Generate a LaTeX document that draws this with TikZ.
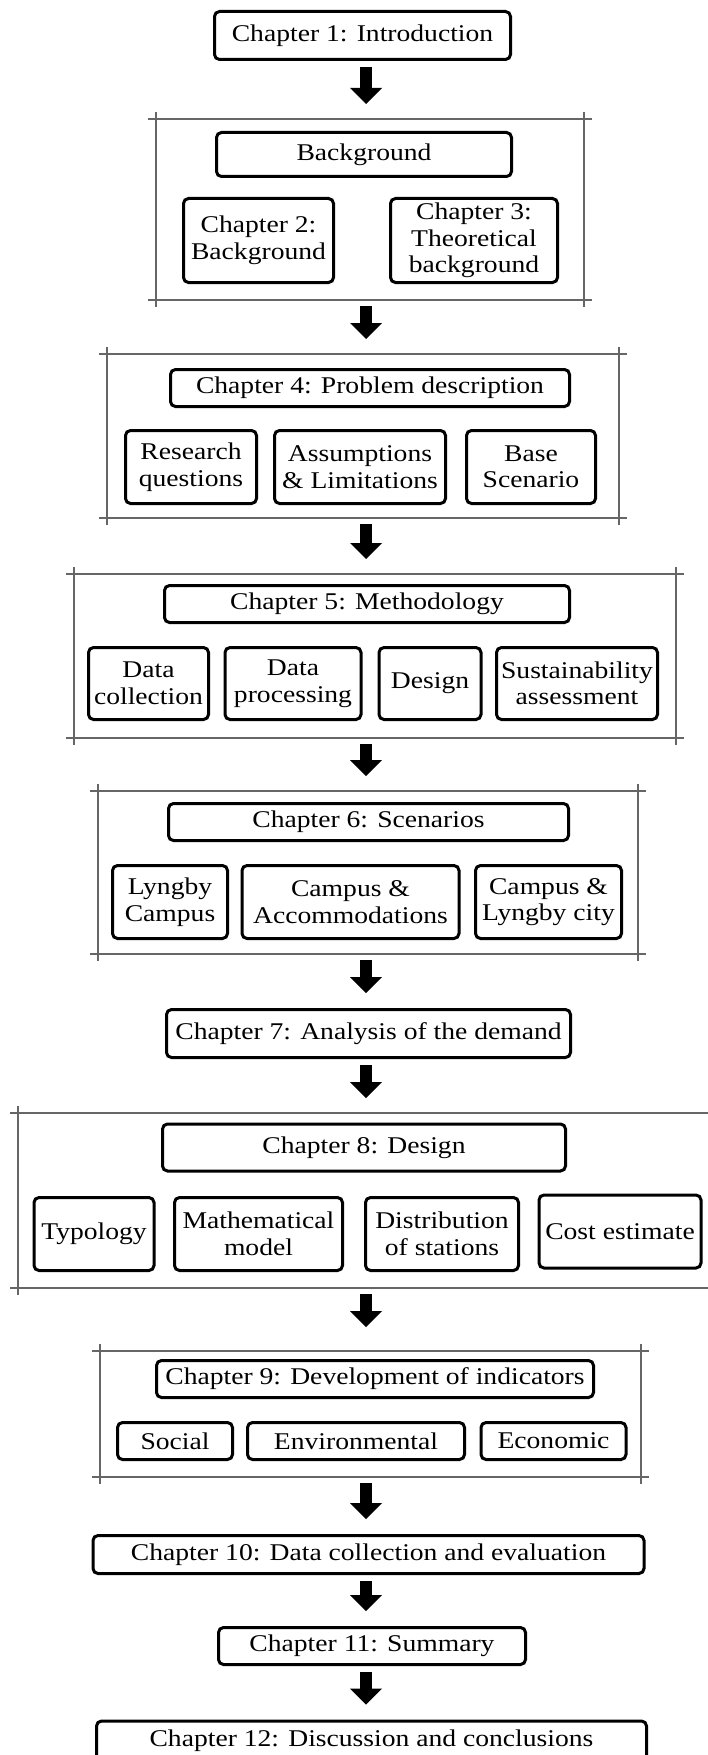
\documentclass[tikz,border=0pt]{standalone}
\usepackage{fontspec}
\setmainfont{Liberation Serif}[FakeStretch=1.15]
\usetikzlibrary{arrows.meta}

\begin{document}
\begin{tikzpicture}[x=1pt, y=-1pt,
		every node/.style={font=\fontsize{24}{26.5}\selectfont, align=center},
		chapter/.style={draw, line width=3pt, rounded corners=5pt, inner sep=2pt},
		group/.style={inner sep=0pt, outer sep=0pt},
		rule/.style={draw=black!60, line width=1.2pt},
		flow/.style={line width=12pt, -{Triangle[width=32pt, length=16pt, line width=0pt]},
			shorten <=6pt, shorten >=15pt}]

		\useasboundingbox (0, 0) rectangle (708, 1755);
		\coordinate (spine) at (366, 0);

		\node[chapter, minimum width=296pt, minimum height=48pt] (ch1) at (362.5, 35.5) {Chapter 1: Introduction};

		\node[group, minimum width=428pt, minimum height=181pt] (f1) at (370, 209.5) {};
		\node[chapter, minimum width=295pt, minimum height=44pt] (bg) at (364, 154.5) {Background};
		\node[chapter, minimum width=150pt, minimum height=84pt] (ch2) at (258.5, 240.5) {Chapter 2:\\Background};
		\node[chapter, minimum width=167pt, minimum height=84pt] (ch3) at (474, 240.5) {Chapter 3:\\Theoretical\\background};

		\node[group, minimum width=512pt, minimum height=164pt] (f2) at (363, 436) {};
		\node[chapter, minimum width=399pt, minimum height=37pt] (ch4) at (370, 388) {Chapter 4: Problem description};
		\node[chapter, minimum width=131pt, minimum height=73pt] (rq) at (191, 467) {Research\\questions};
		\node[chapter, minimum width=171pt, minimum height=73pt] (al) at (360, 467) {Assumptions\\\& Limitations};
		\node[chapter, minimum width=129pt, minimum height=73pt] (bs) at (531, 467) {Base\\Scenario};

		\node[group, minimum width=602pt, minimum height=164pt] (f3) at (375, 656) {};
		\node[chapter, minimum width=405pt, minimum height=37pt] (ch5) at (367, 604) {Chapter 5: Methodology};
		\node[chapter, minimum width=120pt, minimum height=72pt] (dc) at (148.5, 683.5) {Data\\collection};
		\node[chapter, minimum width=136pt, minimum height=72pt] (dp) at (293, 683.5) {Data\\processing};
		\node[chapter, minimum width=102pt, minimum height=72pt] (dsg) at (430, 683.5) {Design};
		\node[chapter, minimum width=161pt, minimum height=72pt] (sa) at (577, 683.5) {Sustainability\\assessment};

		\node[group, minimum width=540pt, minimum height=163pt] (f4) at (368, 872.5) {};
		\node[chapter, minimum width=400pt, minimum height=37pt] (ch6) at (368.5, 822) {Chapter 6: Scenarios};
		\node[chapter, minimum width=115pt, minimum height=73pt] (lc) at (170, 902) {Lyngby\\Campus};
		\node[chapter, minimum width=217pt, minimum height=73pt] (ca) at (350.5, 902) {Campus \&\\Accommodations};
		\node[chapter, minimum width=146pt, minimum height=73pt] (cl) at (548.5, 902) {Campus \&\\Lyngby city};

		\node[chapter, minimum width=404pt, minimum height=48pt] (ch7) at (368.5, 1033.5) {Chapter 7: Analysis of the demand};

		\node[group, minimum width=696pt, minimum height=175pt] (f5) at (366, 1200.5) {};
		\node[chapter, minimum width=403pt, minimum height=47pt] (ch8) at (364, 1147.5) {Chapter 8: Design};
		\node[chapter, minimum width=120pt, minimum height=73pt] (ty) at (94, 1234) {Typology};
		\node[chapter, minimum width=168pt, minimum height=73pt] (mm) at (258.5, 1234) {Mathematical\\model};
		\node[chapter, minimum width=153pt, minimum height=73pt] (ds) at (442, 1234) {Distribution\\of stations};
		\node[chapter, minimum width=162pt, minimum height=73pt] (ce) at (620, 1231.5) {Cost estimate};

		\node[group, minimum width=541pt, minimum height=126pt] (f6) at (370.5, 1414) {};
		\node[chapter, minimum width=437pt, minimum height=37pt] (ch9) at (375, 1379) {Chapter 9: Development of indicators};
		\node[chapter, minimum width=115pt, minimum height=37pt] (so) at (175, 1441) {Social};
		\node[chapter, minimum width=217pt, minimum height=37pt] (en) at (356, 1441) {Environmental};
		\node[chapter, minimum width=145pt, minimum height=37pt] (ec) at (553.5, 1441) {Economic};

		\node[chapter, minimum width=551pt, minimum height=38pt] (ch10) at (368.5, 1554.5) {Chapter 10: Data collection and evaluation};
		\node[chapter, minimum width=307pt, minimum height=37pt] (ch11) at (372, 1646) {Chapter 11: Summary};
		\node[chapter, minimum width=550pt, minimum height=40pt] (ch12) at (371.5, 1741) {Chapter 12: Discussion and conclusions};

		\foreach \g in {f1, f2, f3, f4, f5, f6} {
			\draw[rule] ([xshift=-8pt]\g.north west) -- ([xshift=8pt]\g.north east);
			\draw[rule] ([xshift=-8pt]\g.south west) -- ([xshift=8pt]\g.south east);
			\draw[rule] ([yshift=7pt]\g.north west) -- ([yshift=-7pt]\g.south west);
			\draw[rule] ([yshift=7pt]\g.north east) -- ([yshift=-7pt]\g.south east);
		}

		\draw[flow] (ch1.south -| spine) -- (f1.north -| spine);
		\draw[flow] (f1.south -| spine) -- (f2.north -| spine);
		\draw[flow] (f2.south -| spine) -- (f3.north -| spine);
		\draw[flow] (f3.south -| spine) -- (f4.north -| spine);
		\draw[flow] (f4.south -| spine) -- (ch7.north -| spine);
		\draw[flow] (ch7.south -| spine) -- (f5.north -| spine);
		\draw[flow, shorten >=24pt] (f5.south -| spine) -- (f6.north -| spine);
		\draw[flow] (f6.south -| spine) -- (ch10.north -| spine);
		\draw[flow] (ch10.south -| spine) -- (ch11.north -| spine);
		\draw[flow] (ch11.south -| spine) -- (ch12.north -| spine);
	\end{tikzpicture}
\end{document}
